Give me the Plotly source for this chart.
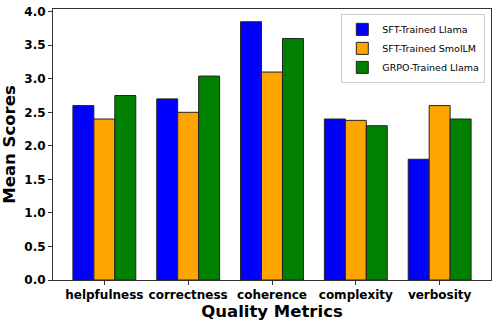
import plotly.graph_objects as go

metrics = ["helpfulness", "correctness", "coherence", "complexity", "verbosity"]
sft_llama = [2.6, 2.7, 3.85, 2.4, 1.8]
sft_smollm = [2.4, 2.5, 3.1, 2.38, 2.6]
grpo_llama = [2.75, 3.04, 3.6, 2.3, 2.4]

series = [
    ("SFT-Trained Llama", sft_llama, "blue"),
    ("SFT-Trained SmolLM", sft_smollm, "orange"),
    ("GRPO-Trained Llama", grpo_llama, "green"),
]

fig = go.Figure()
for name, vals, col in series:
    fig.add_trace(go.Bar(
        x=metrics, y=vals, name=name,
        marker=dict(color=col, line=dict(color="#222222", width=1)),
    ))

fig.update_layout(
    width=498, height=325,
    margin=dict(l=53, r=7, t=9, b=45, autoexpand=False),
    barmode="group", bargap=0.25, bargroupgap=0,
    plot_bgcolor="white", paper_bgcolor="white",
    font=dict(family="DejaVu Sans", color="black"),
    legend=dict(
        x=0.987, y=0.982, xanchor="right", yanchor="top",
        bgcolor="rgba(255,255,255,0.8)", bordercolor="#cccccc", borderwidth=1,
        font=dict(size=9.5, family="DejaVu Sans"),
        tracegroupgap=0,
    ),
    xaxis=dict(
        range=[-0.6125, 4.6125], automargin=False,
        showline=True, linecolor="#333333", linewidth=1, mirror=True,
        ticks="outside", ticklen=4, tickcolor="#333333",
        tickfont=dict(size=12, family="DejaVu Sans", weight="bold"),
        title=dict(text="<b>Quality Metrics</b>", font=dict(size=16.5), standoff=4),
    ),
    yaxis=dict(
        range=[0, 4.04], dtick=0.5, tickformat=".1f", automargin=False,
        showline=True, linecolor="#333333", linewidth=1, mirror=True,
        showgrid=False, zeroline=False, ticklabeloverflow="allow",
        ticks="outside", ticklen=4, tickcolor="#333333",
        tickfont=dict(size=12, family="DejaVu Sans", weight="bold"),
        title=dict(text="<b>Mean Scores</b>", font=dict(size=16.5), standoff=4),
    ),
)

# drop the default 8px body margin so the figure sits at the page corner
fig.write_html("out.html", config={"displayModeBar": False},
               post_script="document.body.style.margin = '0';")
